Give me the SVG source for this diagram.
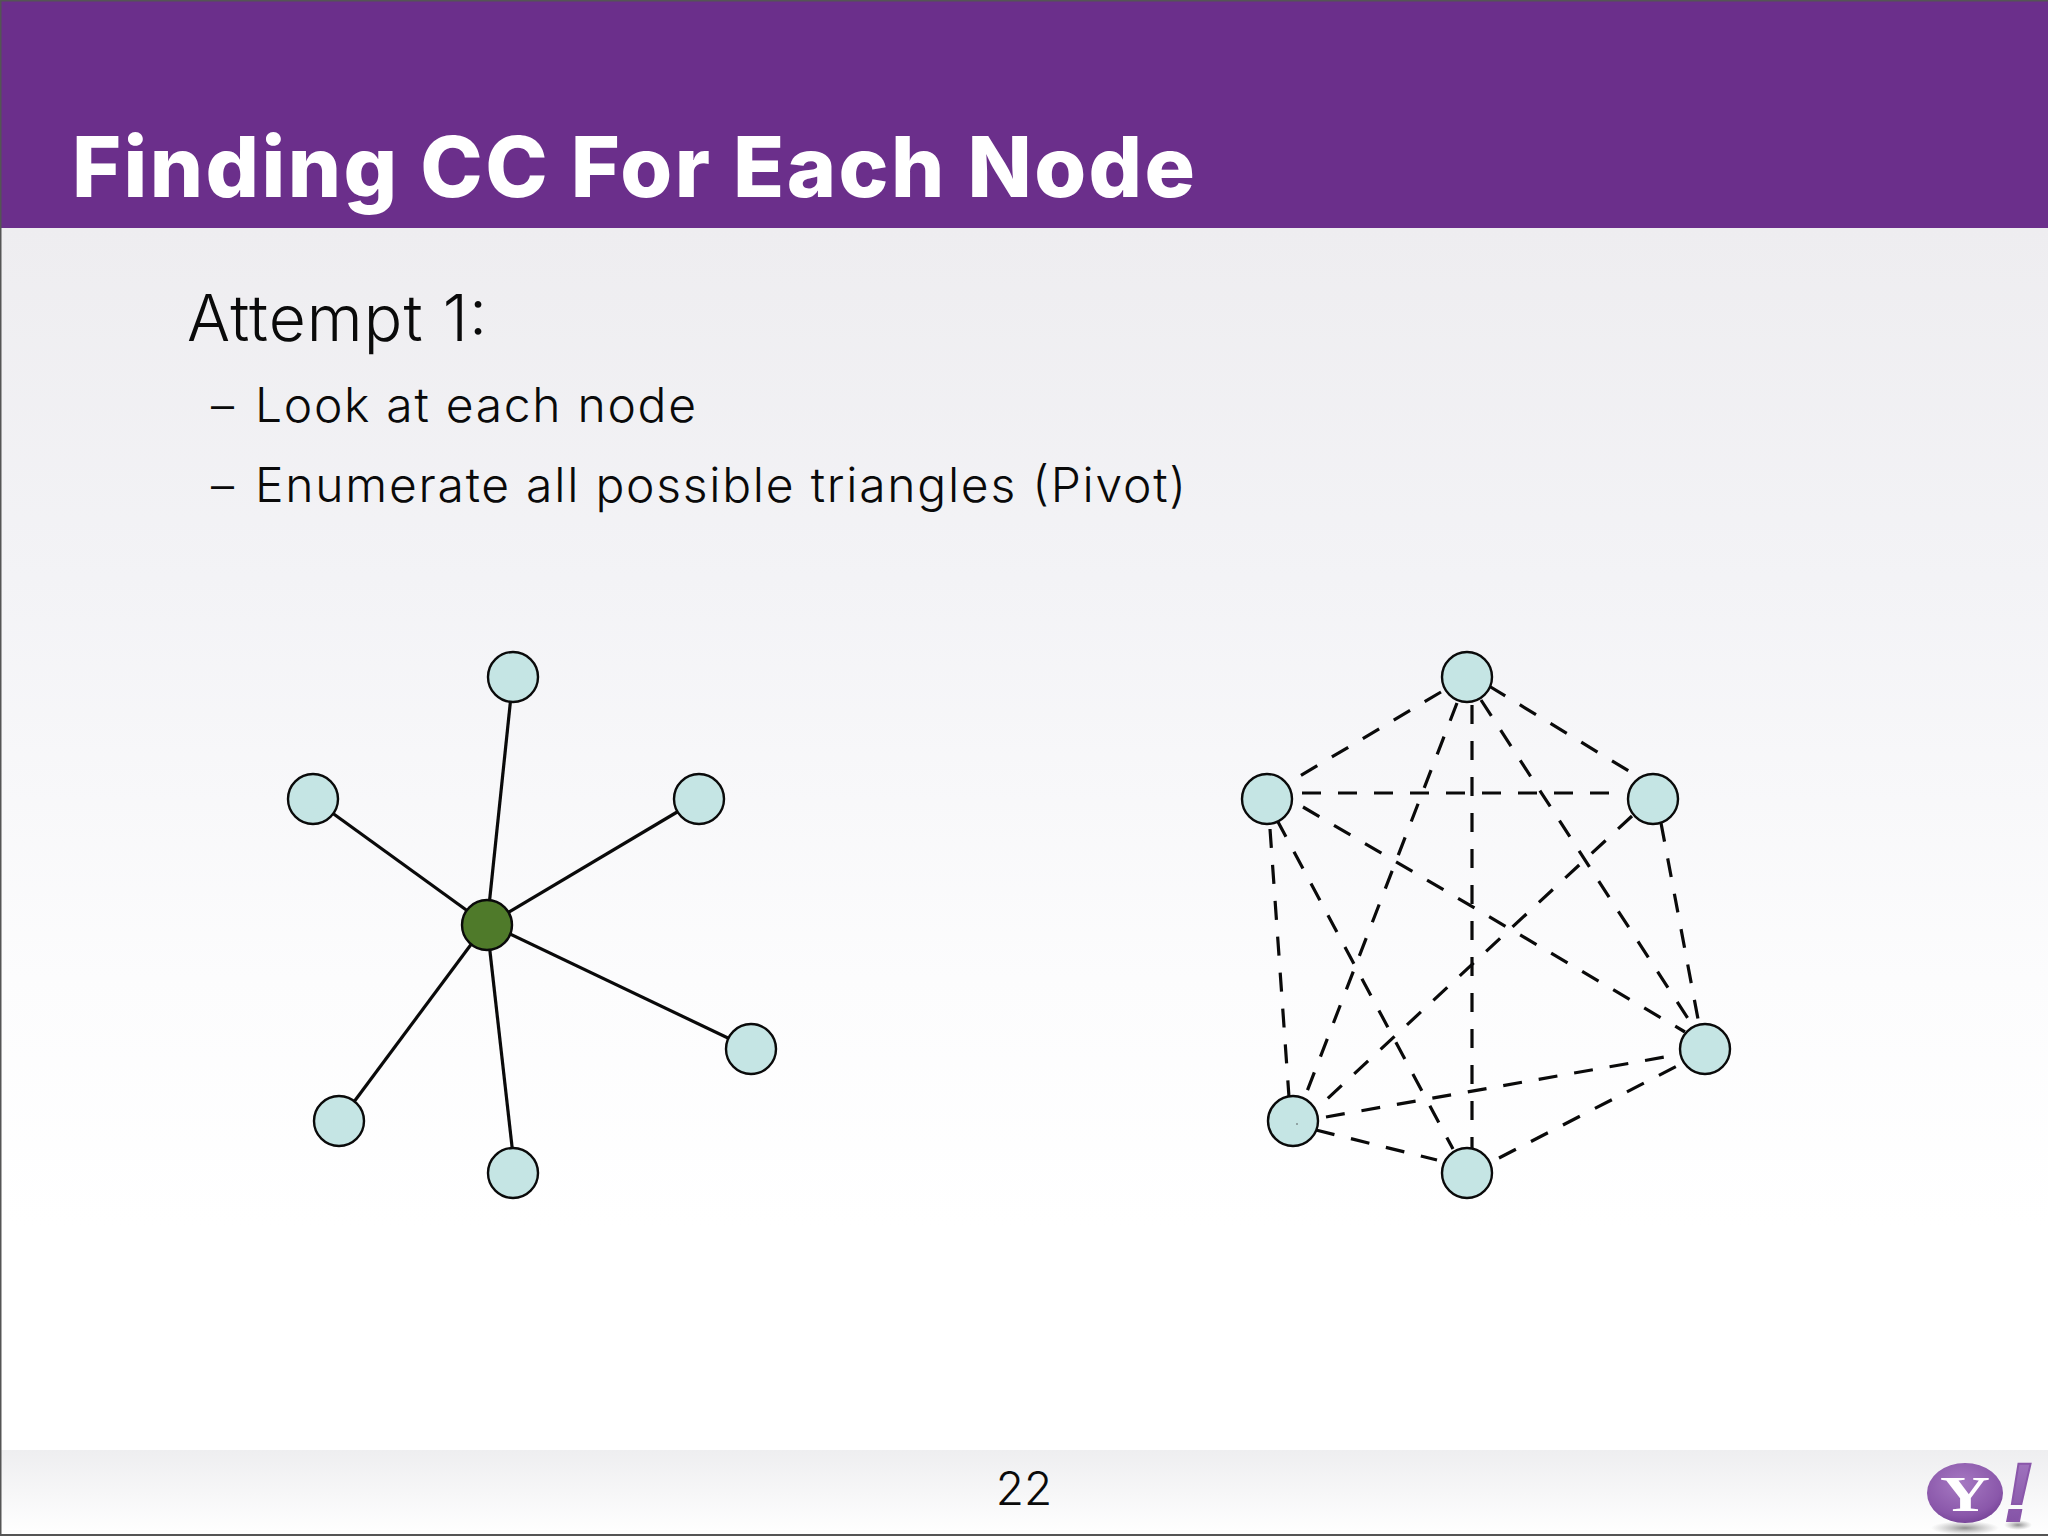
<svg xmlns="http://www.w3.org/2000/svg" width="2048" height="1536" viewBox="0 0 2048 1536">
<style>
.t{font-family:"Inter","Liberation Sans",sans-serif;fill:#0a0a0a;font-weight:300}
.n{fill:#c5e5e4;stroke:#0a0a0a;stroke-width:2.4}
.s{stroke:#0a0a0a;stroke-width:3.2;fill:none}
.d{stroke:#0a0a0a;stroke-width:3.2;fill:none;stroke-dasharray:19 17}
</style>
<defs>
<linearGradient id="bg" x1="0" y1="0" x2="0" y2="1"><stop offset="0" stop-color="#eeedf0"/><stop offset="0.35" stop-color="#f3f3f6"/><stop offset="0.75" stop-color="#fcfcfd"/><stop offset="1" stop-color="#ffffff"/></linearGradient>
<linearGradient id="ft" x1="0" y1="0" x2="0" y2="1"><stop offset="0" stop-color="#eeeef0"/><stop offset="1" stop-color="#ffffff"/></linearGradient>
<radialGradient id="yb" cx="0.45" cy="0.35" r="0.75"><stop offset="0" stop-color="#a679c2"/><stop offset="0.7" stop-color="#8a57aa"/><stop offset="1" stop-color="#6d3a8f"/></radialGradient>
<linearGradient id="ye" x1="0" y1="0" x2="0" y2="1"><stop offset="0" stop-color="#a77cc4"/><stop offset="1" stop-color="#7d4aa0"/></linearGradient>
<radialGradient id="ys"><stop offset="0" stop-color="#777" stop-opacity="0.8"/><stop offset="1" stop-color="#999" stop-opacity="0"/></radialGradient>
</defs>
<g id="background">
<rect width="2048" height="1536" fill="#ffffff"/>
<rect y="228" width="2048" height="1000" fill="url(#bg)"/>
<rect y="1450" width="2048" height="86" fill="url(#ft)"/>
<rect y="0" width="2048" height="228" fill="#6b2f8b"/>
<rect x="0" y="0" width="1.5" height="1536" fill="#555"/>
<rect x="0" y="1534" width="2048" height="2" fill="#555"/>
<rect x="0" y="0" width="2048" height="1.5" fill="#555"/>
</g>
<g id="texts">
<text x="72" y="197" font-family="Inter,'Liberation Sans',sans-serif" font-weight="800" font-size="84" fill="#ffffff" textLength="1123" lengthAdjust="spacing">Finding CC For Each Node</text>
<text class="t" x="187" y="341" font-size="64" textLength="300" lengthAdjust="spacing">Attempt 1:</text>
<text class="t" x="211" y="422" font-size="46">–</text>
<text class="t" x="255" y="422" font-size="48" textLength="441" lengthAdjust="spacing">Look at each node</text>
<text class="t" x="211" y="502" font-size="46">–</text>
<text class="t" x="255" y="502" font-size="48" textLength="931" lengthAdjust="spacing">Enumerate all possible triangles (Pivot)</text>
<text class="t" x="1024" y="1505" font-size="46" text-anchor="middle">22</text>
</g>
<g id="connectors">
<path class="s" d="M487 925L513 677"/>
<path class="s" d="M487 925L313 799"/>
<path class="s" d="M487 925L699 799"/>
<path class="s" d="M487 923L751 1049"/>
<path class="s" d="M487 923L339 1122"/>
<path class="s" d="M487 925L515 1173"/>
<path class="d" d="M1441 692L1300 776"/>
<path class="d" d="M1489 686L1632 773"/>
<path class="d" d="M1302 793L1623 793"/>
<path class="d" d="M1472 705L1472 1149"/>
<path class="d" d="M1457 703L1306 1094"/>
<path class="d" d="M1481 700L1689 1020"/>
<path class="d" d="M1270 829L1289 1097"/>
<path class="d" d="M1277 820L1453 1149"/>
<path class="d" d="M1303 807L1685 1032"/>
<path class="d" d="M1632 816L1326 1100"/>
<path class="d" d="M1661 823L1698 1019"/>
<path class="d" d="M1326 1117L1676 1055"/>
<path class="d" d="M1316 1130L1437 1160"/>
<path class="d" d="M1499 1158L1681 1064"/>
</g>
<g id="star-center"><circle cx="487" cy="925" r="25" fill="#4f7a2a" stroke="#0a0a0a" stroke-width="2.4"/></g>
<g id="star-top"><circle class="n" cx="513" cy="677" r="25"/></g>
<g id="star-left"><circle class="n" cx="313" cy="799" r="25"/></g>
<g id="star-right"><circle class="n" cx="699" cy="799" r="25"/></g>
<g id="star-far-right"><circle class="n" cx="751" cy="1049" r="25"/></g>
<g id="star-bottom-left"><circle class="n" cx="339" cy="1121" r="25"/></g>
<g id="star-bottom"><circle class="n" cx="513" cy="1173" r="25"/></g>
<g id="mesh-top"><circle class="n" cx="1467" cy="677" r="25"/></g>
<g id="mesh-left"><circle class="n" cx="1267" cy="799" r="25"/></g>
<g id="mesh-right"><circle class="n" cx="1653" cy="799" r="25"/></g>
<g id="mesh-far-right"><circle class="n" cx="1705" cy="1049" r="25"/></g>
<g id="mesh-bottom-left"><circle class="n" cx="1293" cy="1121" r="25"/><circle cx="1297" cy="1124" r="0.7" fill="#333"/></g>
<g id="mesh-bottom"><circle class="n" cx="1467" cy="1173" r="25"/></g>
<g id="logo">
<ellipse cx="1965" cy="1528" rx="34" ry="7" fill="url(#ys)"/>
<ellipse cx="2018" cy="1525" rx="14" ry="5" fill="url(#ys)"/>
<ellipse cx="1965" cy="1493" rx="38" ry="30" fill="url(#yb)"/>
<text x="1965" y="1511" font-family="'Liberation Serif',serif" font-weight="700" font-size="50" fill="#ffffff" text-anchor="middle" textLength="50" lengthAdjust="spacingAndGlyphs">Y</text>
<text x="2018" y="1521" font-family="'Liberation Sans',sans-serif" font-weight="700" font-style="italic" font-size="84" fill="url(#ye)" stroke="#8a57aa" stroke-width="2" text-anchor="middle">!</text>
</g>
</svg>
